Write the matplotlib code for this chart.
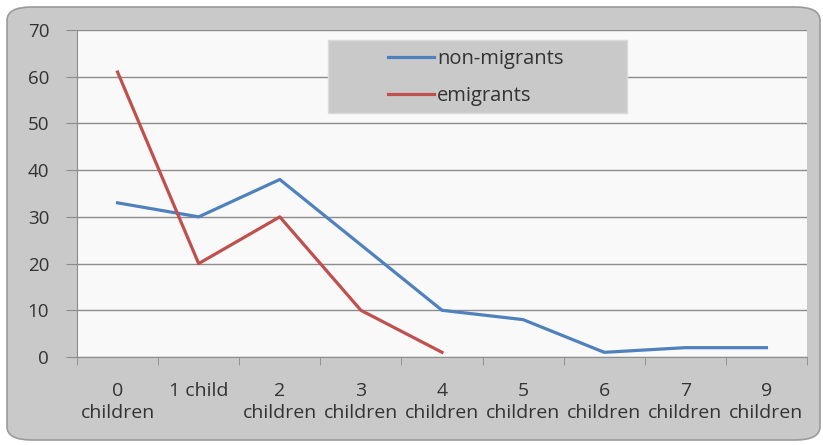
import numpy as np
import matplotlib.pyplot as plt
from matplotlib.patches import FancyBboxPatch, Rectangle

categories = ["0\nchildren", "1 child", "2\nchildren", "3\nchildren", "4\nchildren",
              "5\nchildren", "6\nchildren", "7\nchildren", "9\nchildren"]
non_migrants = [33, 30, 38, 24, 10, 8, 1, 2, 2]
emigrants = [61, 20, 30, 10, 1]

plt.rcParams['font.family'] = ['Open Sans', 'DejaVu Sans']

W, H = 823, 445
fig = plt.figure(figsize=(W / 100, H / 100), dpi=100)
fig.patch.set_facecolor("white")

# outer rounded frame, kept behind the axes
frame = FancyBboxPatch((7 / W, 5 / H), 813 / W, 433 / H,
                       boxstyle="round,pad=0,rounding_size=0.03",
                       transform=fig.transFigure, facecolor="#c9c9c9",
                       edgecolor="#9a9a9a", linewidth=1.2, zorder=-10)
fig.add_artist(frame)

ax = fig.add_axes([77 / W, (H - 357) / H, (807 - 77) / W, (357 - 30) / H])
ax.set_zorder(1)
ax.set_facecolor("#f9f9f9")

x = np.arange(len(categories))
ax.plot(x, non_migrants, color="#4f81bd", lw=2.3, label="non-migrants", zorder=3)
ax.plot(x[:len(emigrants)], emigrants, color="#c0504d", lw=2.3, label="emigrants", zorder=3)

ax.set_xlim(-0.5, len(categories) - 0.5)
ax.set_ylim(0, 70)
ax.set_yticks(range(0, 71, 10))
ax.yaxis.grid(True, color="#8c8c8c", lw=1)
ax.set_axisbelow(True)

ax.set_xticks(x)
ax.set_xticklabels(categories, va="top", linespacing=1.3)
ax.set_xticks(np.arange(-0.5, len(categories), 1), minor=True)
ax.tick_params(axis="x", which="major", length=0, pad=18, labelsize=14, colors="#333333")
ax.tick_params(axis="x", which="minor", length=6, color="#8c8c8c")
ax.tick_params(axis="y", length=8, pad=12, labelsize=13.5, colors="#333333", color="#8c8c8c")

for s in ["top", "right"]:
    ax.spines[s].set_visible(False)
for s in ["left", "bottom"]:
    ax.spines[s].set_color("#8c8c8c")

# legend box
box = Rectangle((328 / W, 1 - 113 / H), 299 / W, 73 / H, transform=fig.transFigure,
                facecolor="#c9c9c9", edgecolor="#dadada", lw=1, zorder=4)
ax.add_patch(box)
leg = ax.legend(loc="upper left", bbox_to_anchor=(388 / W, 1 - 49 / H),
                bbox_transform=fig.transFigure, fontsize=14.5,
                handlelength=2.3, handletextpad=0.15, labelspacing=0.85,
                borderpad=0, borderaxespad=0, frameon=False)
leg.set_zorder(5)
for t in leg.get_texts():
    t.set_color("#333333")

fig.savefig("out.png", dpi=100)
